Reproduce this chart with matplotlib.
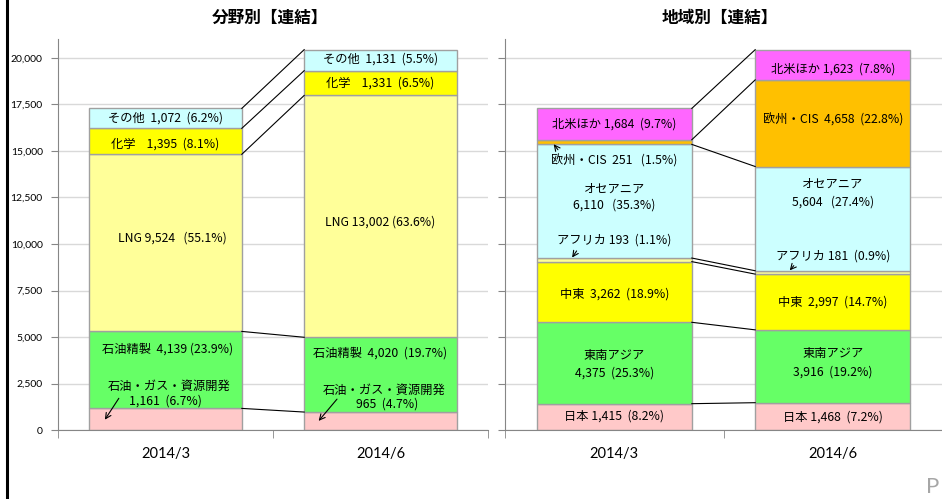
import matplotlib
matplotlib.use("Agg")
import matplotlib.pyplot as plt
from matplotlib.lines import Line2D
import numpy as np

plt.rcParams['font.family'] = ['Noto Sans CJK JP', 'DejaVu Sans']

# ---------------- data ----------------
periods = ["2014/3", "2014/6"]

seg_names = ["石油・ガス・資源開発", "石油精製", "LNG", "化学", "その他"]
seg_2014_3 = [1161, 4139, 9524, 1395, 1072]
seg_2014_6 = [965, 4020, 13002, 1331, 1131]
seg_pct_2014_3 = ["6.7%", "23.9%", "55.1%", "8.1%", "6.2%"]
seg_pct_2014_6 = ["4.7%", "19.7%", "63.6%", "6.5%", "5.5%"]

reg_names = ["日本", "東南アジア", "中東", "アフリカ", "オセアニア", "欧州・CIS", "北米ほか"]
reg_2014_3 = [1415, 4375, 3262, 193, 6110, 251, 1684]
reg_2014_6 = [1468, 3916, 2997, 181, 5604, 4658, 1623]
reg_pct_2014_3 = ["8.2%", "25.3%", "18.9%", "1.1%", "35.3%", "1.5%", "9.7%"]
reg_pct_2014_6 = ["7.2%", "19.2%", "14.7%", "0.9%", "27.4%", "22.8%", "7.8%"]

yticks = [0, 2500, 5000, 7500, 10000, 12500, 15000, 17500, 20000]

# ---------------- style ----------------
seg_colors = ["#FFC9C9", "#66FF66", "#FFFF99", "#FFFF00", "#CCFFFF"]
reg_colors = ["#FFC9C9", "#66FF66", "#FFFF00", "#FFFF99", "#CCFFFF", "#FFC000", "#FF66FF"]
EDGE = "#A0A0A0"
GRID = "#D9D9D9"
W = 0.71


def fmt(v):
    return f"{v:,}"


fig = plt.figure(figsize=(9.42, 4.99), dpi=100)

axL = fig.add_axes([58/942, 1-430/499, 430/942, (430-39.4)/499])
axR = fig.add_axes([505/942, 1-430/499, 437/942, (430-39.4)/499])


def style_axis(ax, xlim, show_labels):
    ax.set_xlim(*xlim)
    ax.set_ylim(0, 21000)
    ax.set_yticks(yticks)
    if show_labels:
        ax.set_yticklabels([fmt(t) for t in yticks], fontsize=7.5, family=['Lato', 'DejaVu Sans'])
    else:
        ax.set_yticklabels([])
    ax.tick_params(axis='y', length=5, color='#868686', pad=6)
    ax.yaxis.grid(True, color=GRID, lw=1)
    ax.set_axisbelow(True)
    for s in ['top', 'right']:
        ax.spines[s].set_visible(False)
    for s in ['left', 'bottom']:
        ax.spines[s].set_color('#868686')
    ax.set_xticks([0, 1])
    ax.set_xticklabels(periods, fontsize=10.5, family=['Lato', 'DejaVu Sans'])
    ax.tick_params(axis='x', length=0, pad=12)
    ax.set_xticks([-0.5, 0.5, 1.5], minor=True)
    ax.tick_params(axis='x', which='minor', length=6, color='#868686')


def draw_stack(ax, vals_a, vals_b, colors):
    tops = []
    for xi, vals in enumerate([vals_a, vals_b]):
        bottoms = np.concatenate([[0], np.cumsum(vals)[:-1]])
        ax.bar([xi]*len(vals), vals, bottom=bottoms, width=W, color=colors,
               edgecolor=EDGE, linewidth=1, zorder=2)
        tops.append(np.cumsum(vals))
    for ta, tb in zip(tops[0], tops[1]):
        ax.plot([W/2, 1-W/2], [ta, tb], color='black', lw=0.8, zorder=3)


style_axis(axL, (-0.497, 1.402), True)
style_axis(axR, (-0.491, 1.469), False)

draw_stack(axL, seg_2014_3, seg_2014_6, seg_colors)
draw_stack(axR, reg_2014_3, reg_2014_6, reg_colors)

FS = 8.8


def lab(ax, x, y, s):
    ax.text(x, y, s, ha='center', va='center', fontsize=FS, zorder=4)


def arrow(ax, tip, start):
    ax.annotate("", xy=tip, xytext=start,
                arrowprops=dict(arrowstyle='->', lw=0.8, color='black'), zorder=4)


# ---- left panel labels ----
lab(axL, 0, 16760, f"{seg_names[4]}  {fmt(seg_2014_3[4])}  ({seg_pct_2014_3[4]})")
lab(axL, 0, 15400, f"{seg_names[3]}    {fmt(seg_2014_3[3])}  ({seg_pct_2014_3[3]})")
lab(axL, 0.03, 10320, f"{seg_names[2]} {fmt(seg_2014_3[2])}   ({seg_pct_2014_3[2]})")
lab(axL, 0.01, 4360, f"{seg_names[1]}  {fmt(seg_2014_3[1])} ({seg_pct_2014_3[1]})")
lab(axL, 0.015, 2350, seg_names[0])
lab(axL, 0.0, 1560, f"{fmt(seg_2014_3[0])}  ({seg_pct_2014_3[0]})")
arrow(axL, (-0.289, 430), (-0.21, 1830))

lab(axL, 1, 19925, f"{seg_names[4]}  {fmt(seg_2014_6[4])}  ({seg_pct_2014_6[4]})")
lab(axL, 1, 18660, f"{seg_names[3]}    {fmt(seg_2014_6[3])}  ({seg_pct_2014_6[3]})")
lab(axL, 1, 11180, f"{seg_names[2]} {fmt(seg_2014_6[2])} ({seg_pct_2014_6[2]})")
lab(axL, 1, 4140, f"{seg_names[1]}  {fmt(seg_2014_6[1])}  ({seg_pct_2014_6[1]})")
lab(axL, 1.015, 2150, seg_names[0])
lab(axL, 1.03, 1370, f"{fmt(seg_2014_6[0])}  ({seg_pct_2014_6[0]})")
arrow(axL, (0.704, 376), (0.806, 1774))

# ---- right panel labels ----
lab(axR, 0, 16450, f"{reg_names[6]} {fmt(reg_2014_3[6])}  ({reg_pct_2014_3[6]})")
lab(axR, 0, 14450, f"{reg_names[5]}  {fmt(reg_2014_3[5])}   ({reg_pct_2014_3[5]})")
arrow(axR, (-0.285, 15480), (-0.25, 14950))
lab(axR, 0, 12950, reg_names[4])
lab(axR, 0, 12080, f"{fmt(reg_2014_3[4])}   ({reg_pct_2014_3[4]})")
lab(axR, 0, 10200, f"{reg_names[3]} {fmt(reg_2014_3[3])}  ({reg_pct_2014_3[3]})")
arrow(axR, (-0.2, 9150), (-0.165, 9750))
lab(axR, 0, 7330, f"{reg_names[2]}  {fmt(reg_2014_3[2])}  ({reg_pct_2014_3[2]})")
lab(axR, 0, 3990, reg_names[1])
lab(axR, 0, 3070, f"{fmt(reg_2014_3[1])}  ({reg_pct_2014_3[1]})")
lab(axR, 0, 750, f"{reg_names[0]} {fmt(reg_2014_3[0])}  ({reg_pct_2014_3[0]})")

lab(axR, 1, 19410, f"{reg_names[6]} {fmt(reg_2014_6[6])}  ({reg_pct_2014_6[6]})")
lab(axR, 1, 16650, f"{reg_names[5]}  {fmt(reg_2014_6[5])}  ({reg_pct_2014_6[5]})")
lab(axR, 1, 13200, reg_names[4])
lab(axR, 1, 12240, f"{fmt(reg_2014_6[4])}   ({reg_pct_2014_6[4]})")
lab(axR, 1, 9350, f"{reg_names[3]} {fmt(reg_2014_6[3])}  ({reg_pct_2014_6[3]})")
arrow(axR, (0.795, 8470), (0.83, 8950))
lab(axR, 1, 6860, f"{reg_names[2]}  {fmt(reg_2014_6[2])}  ({reg_pct_2014_6[2]})")
lab(axR, 1, 4090, reg_names[1])
lab(axR, 1, 3120, f"{fmt(reg_2014_6[1])}  ({reg_pct_2014_6[1]})")
lab(axR, 1, 700, f"{reg_names[0]} {fmt(reg_2014_6[0])}  ({reg_pct_2014_6[0]})")

# titles
fig.text(270/942, 1-18/499, "分野別【連結】", ha='center', va='center', fontsize=12, fontweight='bold')
fig.text(720/942, 1-18/499, "地域別【連結】", ha='center', va='center', fontsize=12, fontweight='bold')

# page frame line and page marker
fig.add_artist(Line2D([6.5/942, 6.5/942], [0, 1], transform=fig.transFigure, color='black', lw=2.2))
fig.text(926/942, 1-487/499, "P", ha='left', va='center', fontsize=16, color='#A6A6A6',
         family=['Lato', 'DejaVu Sans'])

fig.savefig("out.png", dpi=100)
